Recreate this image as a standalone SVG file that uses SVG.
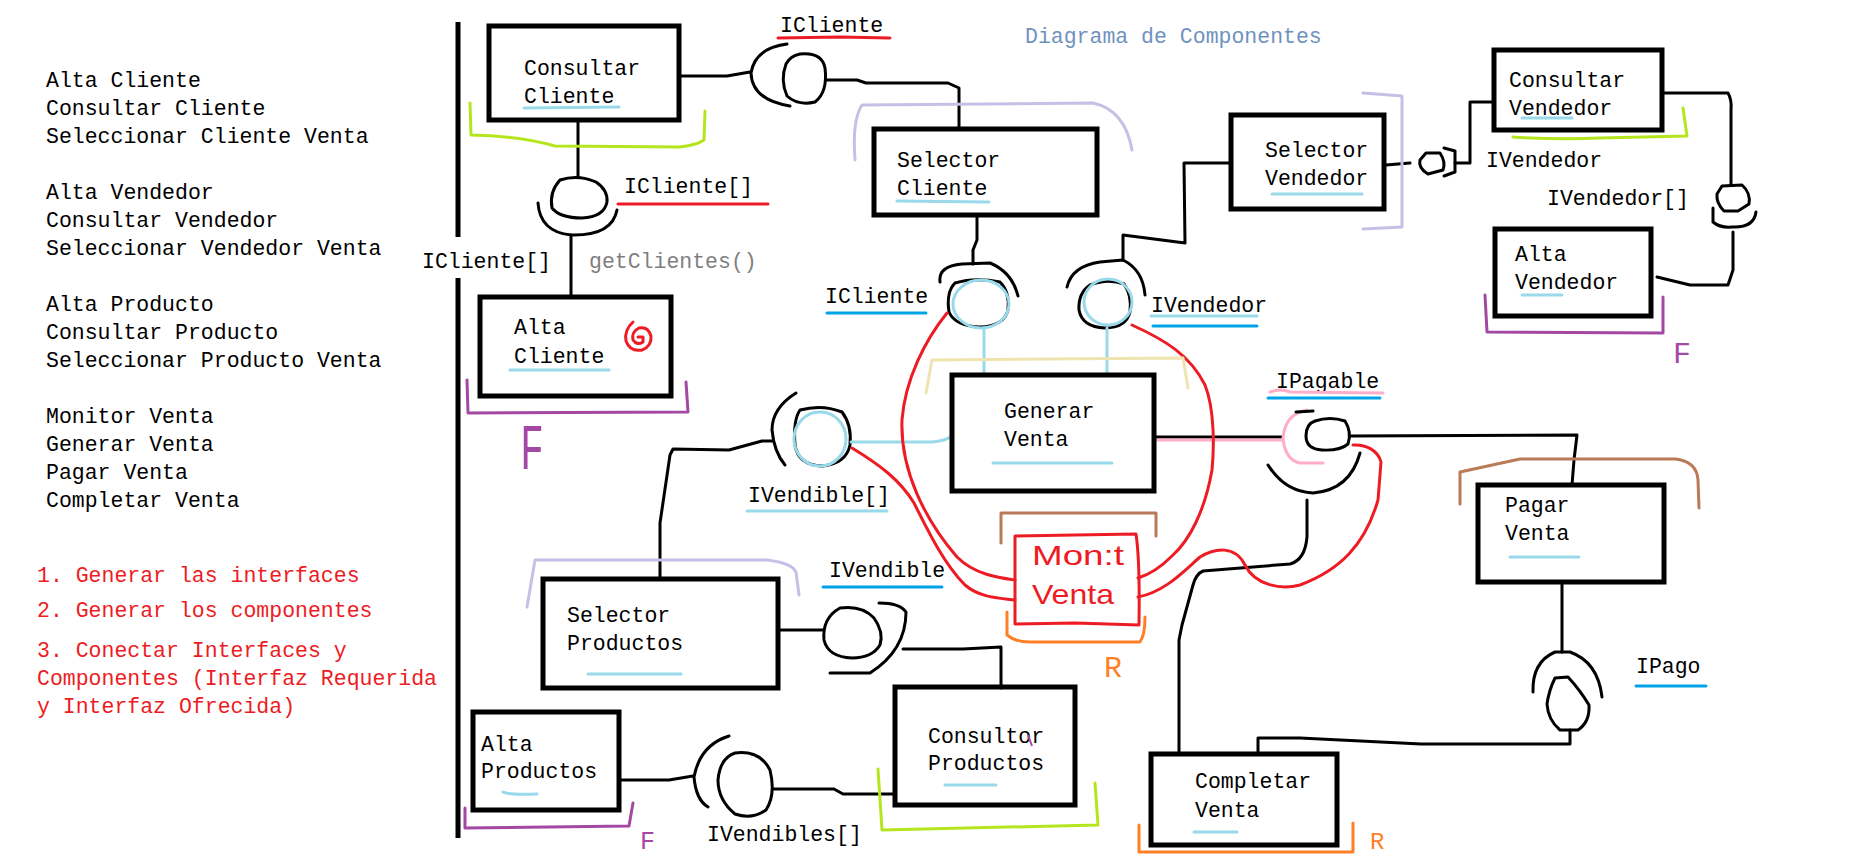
<svg xmlns="http://www.w3.org/2000/svg" width="1875" height="858" viewBox="0 0 1875 858">
<style>
.t{font-family:"Liberation Mono","DejaVu Sans Mono",monospace;font-size:21.5px;fill:#000}
.red{fill:#ed1c24}
.grey{fill:#7f7f7f}
.title{fill:#7092be}
.box{fill:none;stroke:#000;stroke-width:5}
.ln{fill:none;stroke:#000;stroke-width:3;stroke-linecap:round;stroke-linejoin:round}
.ul-lb{fill:none;stroke:#99d9ea;stroke-width:3;stroke-linecap:round}
.ul-b{fill:none;stroke:#00a2e8;stroke-width:3;stroke-linecap:round}
.ul-r{fill:none;stroke:#ed1c24;stroke-width:3;stroke-linecap:round}
.lb{fill:none;stroke:#99d9ea;stroke-width:3;stroke-linecap:round;stroke-linejoin:round}
.rc{fill:none;stroke:#ed1c24;stroke-width:3;stroke-linecap:round;stroke-linejoin:round}
.pk{fill:none;stroke:#ffaec9;stroke-width:3;stroke-linecap:round;stroke-linejoin:round}
.lime{fill:none;stroke:#b5e61d;stroke-width:3;stroke-linecap:round;stroke-linejoin:round}
.pur{fill:none;stroke:#a349a4;stroke-width:3;stroke-linecap:round;stroke-linejoin:round}
.lav{fill:none;stroke:#c8bfe7;stroke-width:3;stroke-linecap:round;stroke-linejoin:round}
.bei{fill:none;stroke:#efe4b0;stroke-width:3;stroke-linecap:round;stroke-linejoin:round}
.brn{fill:none;stroke:#b97a57;stroke-width:3;stroke-linecap:round;stroke-linejoin:round}
.org{fill:none;stroke:#ff7f27;stroke-width:3;stroke-linecap:round;stroke-linejoin:round}
.mk{font-family:"Liberation Mono","DejaVu Sans Mono",monospace}
.hw{font-family:"Liberation Sans","DejaVu Sans",sans-serif}
</style>
<rect x="0" y="0" width="1875" height="858" fill="#fff"/>

<g id="notes">
<text class="t" x="46" y="87">Alta Cliente</text>
<text class="t" x="46" y="115">Consultar Cliente</text>
<text class="t" x="46" y="143">Seleccionar Cliente Venta</text>
<text class="t" x="46" y="199">Alta Vendedor</text>
<text class="t" x="46" y="227">Consultar Vendedor</text>
<text class="t" x="46" y="255">Seleccionar Vendedor Venta</text>
<text class="t" x="46" y="311">Alta Producto</text>
<text class="t" x="46" y="339">Consultar Producto</text>
<text class="t" x="46" y="367">Seleccionar Producto Venta</text>
<text class="t" x="46" y="423">Monitor Venta</text>
<text class="t" x="46" y="451">Generar Venta</text>
<text class="t" x="46" y="479">Pagar Venta</text>
<text class="t" x="46" y="507">Completar Venta</text>
<text class="t red" x="37" y="582">1. Generar las interfaces</text>
<text class="t red" x="37" y="617">2. Generar los componentes</text>
<text class="t red" x="37" y="657">3. Conectar Interfaces y</text>
<text class="t red" x="37" y="685">Componentes (Interfaz Requerida</text>
<text class="t red" x="37" y="713">y Interfaz Ofrecida)</text>
<text class="t title" x="1025" y="43">Diagrama de Componentes</text>
</g>

<g id="separator">
<path d="M458 22 L458 237 M458 278 L458 838" fill="none" stroke="#000" stroke-width="5"/>
<text class="t" x="422" y="268">ICliente[]</text>
</g>

<g id="connectors">
<!-- ICliente (top) -->
<path class="ln" d="M681 76 L727 76 L750 72"/>
<path class="ln" d="M787 44 Q755 48 751 73 Q752 100 790 106"/>
<path class="ln" d="M800 54 Q822 52 825 68 Q828 92 815 102 Q798 106 787 96 Q780 80 786 64 Q790 56 800 54 Z"/>
<path class="ln" d="M826 80 L857 80 L866 83 L948 83 L959 88 L959 128"/>
<!-- ICliente[] -->
<path class="ln" d="M578 122 L578 177"/>
<path class="ln" d="M560 180 Q578 174 596 182 Q608 190 607 202 Q604 217 582 218 Q560 218 552 208 Q549 192 560 180 Z"/>
<path class="ln" d="M538 203 Q540 232 571 235 Q612 236 617 210"/>
<path class="ln" d="M571 235 L571 296"/>
<!-- ICliente (Selector Cliente -> Generar Venta) -->
<path class="ln" d="M977 216 L977 240 L973 250 L973 264"/>
<path class="ln" d="M940 282 Q938 266 962 264 L990 263 Q1012 272 1018 296"/>
<path class="ln" d="M955 283 Q975 277 1000 282 Q1010 292 1008 310 Q1004 326 980 327 Q955 326 949 312 Q946 292 955 283 Z"/>
<ellipse cx="981" cy="304" rx="28" ry="24" class="lb"/>
<path class="lb" d="M984 328 L984 373"/>
<!-- IVendedor (Selector Vendedor -> Generar Venta) -->
<path class="ln" d="M1067 287 Q1072 266 1100 262 L1123 260 Q1143 270 1145 295"/>
<path class="ln" d="M1090 285 Q1108 278 1124 284 Q1132 295 1130 312 Q1126 328 1105 328 Q1082 327 1079 310 Q1078 293 1090 285 Z"/>
<ellipse cx="1108" cy="302" rx="24" ry="23" class="lb"/>
<path class="lb" d="M1107 328 L1107 373"/>
<path class="ln" d="M1123 260 L1123 235 L1185 243 L1184 163 L1231 163"/>
<!-- IVendible[] -->
<path class="ln" d="M796 393 Q772 408 772 430 Q774 452 785 465"/>
<path class="ln" d="M800 410 Q822 404 842 412 Q852 425 850 445 Q846 464 822 466 Q798 465 795 445 Q793 420 800 410 Z"/>
<ellipse cx="820" cy="439" rx="26" ry="27" class="lb"/>
<path class="lb" d="M851 442 L932 442 Q945 441 952 436"/>
<path class="ln" d="M772 441 L762 441 L729 450 L673 449 L670 455 L660 523 L660 578"/>
<!-- IVendible -->
<path class="ln" d="M778 630 L823 630"/>
<path class="ln" d="M840 608 Q862 605 874 618 Q884 632 880 645 Q872 658 852 658 Q828 657 824 640 Q822 618 840 608 Z"/>
<path class="ln" d="M879 603 Q900 603 906 612 Q906 650 870 673 L830 673"/>
<path class="ln" d="M903 649 L963 649 L1001 647 L1001 688"/>
<!-- IVendibles[] -->
<path class="ln" d="M619 780 L669 780 L693 776"/>
<path class="ln" d="M729 736 Q700 745 694 777 Q696 800 708 807"/>
<path class="ln" d="M735 753 Q760 750 770 770 Q776 795 766 810 Q752 820 735 814 Q718 800 718 780 Q720 758 735 753 Z"/>
<path class="ln" d="M773 789 L834 789 L843 794 L895 794"/>
<!-- IPagable -->
<path class="ln" d="M1154 437 L1282 437"/>
<path class="pk" d="M1157 440 L1282 440"/>
<path class="pk" d="M1307 410 Q1285 414 1283 438 Q1285 460 1300 463 L1323 463"/>
<path class="ln" d="M1296 412 L1313 411"/>
<path class="ln" d="M1315 421 Q1330 416 1345 421 Q1352 432 1348 444 Q1340 451 1322 450 Q1306 449 1306 436 Q1306 424 1315 421 Z"/>
<path class="ln" d="M1350 436 L1577 435 L1574 460 L1572 485"/>
<path class="ln" d="M1268 465 Q1285 492 1313 493 Q1350 490 1360 453"/>
<path class="ln" d="M1307 500 L1307 537 Q1305 560 1290 564 L1203 571 Q1196 574 1193 585 L1182 625 L1179 640 L1179 754"/>
<!-- IPago -->
<path class="ln" d="M1562 584 L1562 652"/>
<path class="ln" d="M1533 692 Q1532 662 1555 652 L1570 652 Q1598 662 1602 697"/>
<path class="ln" d="M1555 678 L1568 677 Q1580 690 1589 705 Q1590 722 1578 730 L1560 730 Q1548 720 1547 704 Q1549 690 1555 678 Z"/>
<path class="ln" d="M1570 730 L1570 744 L1421 744 L1300 738 L1258 738 L1258 754"/>
<!-- IVendedor (right) -->
<path class="ln" d="M1386 165 L1410 163"/>
<path class="ln" d="M1426 153 L1440 153 Q1446 162 1443 170 L1428 174 Q1418 168 1420 160 Z"/>
<path class="ln" d="M1444 148 L1455 151 L1455 172 L1444 176"/>
<path class="ln" d="M1455 163 L1470 163 L1470 102 L1494 102"/>
<!-- IVendedor[] -->
<path class="ln" d="M1662 93 L1728 93 Q1732 100 1731 110 L1731 185"/>
<path class="ln" d="M1722 186 L1742 185 Q1751 193 1749 204 L1738 211 L1724 211 Q1716 203 1717 194 Z"/>
<path class="ln" d="M1713 208 L1713 222 Q1720 228 1732 227 Q1754 228 1756 212"/>
<path class="ln" d="M1733 232 L1733 270 L1728 285 L1690 285 L1657 277"/>
<!-- Monitor links (red) -->
<path class="rc" d="M947 313 C925 340 905 380 902 420 C900 470 925 520 957 557 C975 575 1000 578 1015 580"/>
<path class="rc" d="M1132 325 C1165 340 1190 355 1205 385 C1215 410 1214 450 1212 470 C1205 510 1190 540 1172 556 C1160 568 1148 575 1138 578"/>
<path class="rc" d="M852 448 C880 465 900 480 914 503 C930 535 945 565 965 585 C980 598 1000 598 1015 600"/>
<path class="rc" d="M1138 597 C1165 592 1185 570 1200 557 C1215 548 1235 545 1245 565 C1255 585 1280 590 1300 585 C1340 570 1365 545 1378 500 L1381 462 C1378 450 1365 444 1353 445"/>
</g>

<g id="consultar-cliente">
<rect class="box" x="489" y="26" width="190" height="94"/>
<text class="t" x="524" y="75">Consultar</text>
<text class="t" x="524" y="103">Cliente</text>
<path class="ul-lb" d="M524 108 L619 107"/>
<path class="lime" d="M470 103 L471 135 Q520 136 555 146 L680 147 Q697 145 704 140 L705 111"/>
</g>

<g id="icliente-array-label">
<text class="t" x="624" y="193">ICliente[]</text>
<path class="ul-r" d="M618 204 L768 204"/>
<text class="t grey" x="589" y="268">getClientes()</text>
</g>

<g id="alta-cliente">
<rect class="box" x="480" y="297" width="191" height="99"/>
<text class="t" x="514" y="334">Alta</text>
<text class="t" x="514" y="363">Cliente</text>
<path class="ul-lb" d="M510 370 L609 370"/>
<path class="rc" d="M633 322 Q624 330 626 341 Q630 352 642 350 Q652 346 651 336 Q648 326 639 328 Q631 332 633 340 Q637 346 643 342 L643 337 L638 337"/>
<path class="pur" d="M467 380 L468 413 L688 412 L686 382"/>
<text class="mk" font-size="40" fill="#a349a4" transform="translate(520 469) scale(1 1.6)">F</text>
</g>

<g id="icliente-top-label">
<text class="t" x="780" y="32">ICliente</text>
<path class="ul-r" d="M778 38 L840 37 L890 38"/>
</g>

<g id="selector-cliente">
<rect class="box" x="874" y="129" width="223" height="86"/>
<text class="t" x="897" y="167">Selector</text>
<text class="t" x="897" y="195">Cliente</text>
<path class="ul-lb" d="M897 201 L989 202"/>
<path class="lav" d="M855 160 Q852 120 862 105 L1093 103 Q1125 110 1132 150"/>
<text class="t" x="825" y="303">ICliente</text>
<path class="ul-b" d="M827 313 L926 313"/>
</g>

<g id="ivendedor-label">
<text class="t" x="1151" y="312">IVendedor</text>
<path class="ul-lb" d="M1151 316 L1257 316"/>
<path class="ul-b" d="M1153 326 L1257 326"/>
</g>

<g id="generar-venta">
<rect class="box" x="952" y="375" width="202" height="116"/>
<text class="t" x="1004" y="418">Generar</text>
<text class="t" x="1004" y="446">Venta</text>
<path class="ul-lb" d="M993 463 L1112 463"/>
<path class="bei" d="M926 393 L932 360 L1183 358 L1188 388"/>
</g>

<g id="ivendible-array-label">
<text class="t" x="748" y="502">IVendible[]</text>
<path class="ul-lb" d="M747 511 L887 511"/>
</g>

<g id="selector-productos">
<rect class="box" x="543" y="579" width="235" height="109"/>
<text class="t" x="567" y="622">Selector</text>
<text class="t" x="567" y="650">Productos</text>
<path class="ul-lb" d="M588 674 L681 674"/>
<path class="lav" d="M527 607 L535 560 L767 560 Q792 563 796 572 L799 595"/>
</g>

<g id="ivendible-label">
<text class="t" x="829" y="577">IVendible</text>
<path class="ul-b" d="M823 587 L942 587"/>
</g>

<g id="consultor-productos">
<rect class="box" x="895" y="687" width="180" height="118"/>
<text class="t" x="928" y="743">Consultor</text>
<text class="t" x="928" y="770">Productos</text>
<path class="ul-lb" d="M945 785 L996 785"/>
<path class="lime" d="M878 769 L882 830 L1098 825 L1095 783"/>
<path d="M1028 735 L1032 746" fill="none" stroke="#a349a4" stroke-width="2"/>
</g>

<g id="alta-productos">
<rect class="box" x="473" y="712" width="146" height="98"/>
<text class="t" x="481" y="751">Alta</text>
<text class="t" x="481" y="778">Productos</text>
<path class="ul-lb" d="M503 792 Q508 795 537 794"/>
<path class="pur" d="M465 808 L465 828 L629 826 L633 803"/>
<text class="mk" x="640" y="849" font-size="25" fill="#a349a4">F</text>
<text class="t" x="707" y="841">IVendibles[]</text>
</g>

<g id="monitor-venta">
<path d="M1015 536 L1075 535 L1136 534 Q1140 560 1139 625 L1075 623 L1015 624 Z" fill="none" stroke="#ed1c24" stroke-width="3" stroke-linejoin="round"/>
<text class="hw" x="1032" y="565" font-size="28" fill="#ed1c24" textLength="92" lengthAdjust="spacingAndGlyphs">Mon:t</text>
<text class="hw" x="1032" y="604" font-size="28" fill="#ed1c24" textLength="82" lengthAdjust="spacingAndGlyphs">Venta</text>
<path class="brn" d="M1001 543 L1001 513 L1156 513 L1156 536"/>
<path class="org" d="M1007 612 L1007 635 Q1015 642 1030 642 L1140 642 Q1145 635 1145 617"/>
<text class="mk" x="1104" y="677" font-size="30" fill="#ff7f27">R</text>
</g>

<g id="ipagable-label">
<text class="t" x="1276" y="388">IPagable</text>
<path class="pk" d="M1270 392 Q1280 388 1290 392 L1383 393"/>
<path class="ul-b" d="M1268 398 L1380 398"/>
</g>

<g id="pagar-venta">
<rect class="box" x="1478" y="485" width="186" height="97"/>
<text class="t" x="1505" y="512">Pagar</text>
<text class="t" x="1505" y="540">Venta</text>
<path class="ul-lb" d="M1510 557 L1579 557"/>
<path class="brn" d="M1460 504 L1460 472 L1520 459 L1676 459 Q1697 462 1698 480 L1699 508"/>
</g>

<g id="ipago-label">
<text class="t" x="1636" y="673">IPago</text>
<path class="ul-b" d="M1636 686 L1706 686"/>
</g>

<g id="completar-venta">
<rect class="box" x="1151" y="754" width="186" height="91"/>
<text class="t" x="1195" y="788">Completar</text>
<text class="t" x="1195" y="817">Venta</text>
<path class="ul-lb" d="M1194 832 L1237 832"/>
<path class="org" d="M1139 825 L1139 852 L1353 852 L1353 823"/>
<text class="mk" x="1370" y="849" font-size="24" fill="#ff7f27">R</text>
</g>

<g id="selector-vendedor">
<rect class="box" x="1231" y="115" width="153" height="94"/>
<text class="t" x="1265" y="157">Selector</text>
<text class="t" x="1265" y="185">Vendedor</text>
<path class="ul-lb" d="M1272 194 L1362 194"/>
<path class="lav" d="M1363 93 L1402 96 L1402 227 L1363 229"/>
<text class="t" x="1486" y="167">IVendedor</text>
</g>

<g id="consultar-vendedor">
<rect class="box" x="1494" y="50" width="168" height="80"/>
<text class="t" x="1509" y="87">Consultar</text>
<text class="t" x="1509" y="115">Vendedor</text>
<path class="ul-lb" d="M1522 118 L1572 118"/>
<path class="lime" d="M1513 137 Q1560 140 1600 138 L1687 136 L1683 108"/>
<text class="t" x="1547" y="205">IVendedor[]</text>
</g>

<g id="alta-vendedor">
<rect class="box" x="1495" y="229" width="156" height="87"/>
<text class="t" x="1515" y="261">Alta</text>
<text class="t" x="1515" y="289">Vendedor</text>
<path class="ul-lb" d="M1522 295 L1562 295"/>
<path class="pur" d="M1485 295 L1487 332 L1663 333 L1663 297"/>
<text class="mk" x="1673" y="363" font-size="30" fill="#a349a4">F</text>
</g>
</svg>
